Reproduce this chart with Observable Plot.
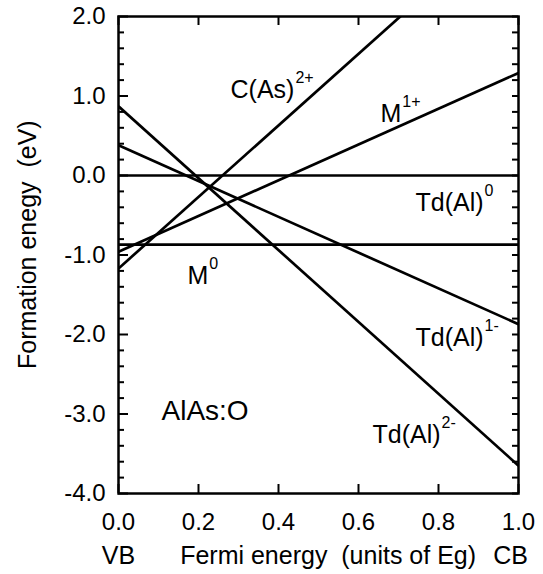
<!DOCTYPE html>
<html><head><meta charset="utf-8">
<script src="https://cdn.jsdelivr.net/npm/d3@7"></script>
<script src="https://cdn.jsdelivr.net/npm/@observablehq/plot@0.6"></script>
<style>
body{margin:0;background:#fff;}
svg text{white-space:pre;}
</style></head><body><div id="chart"></div>
<script>
// Defect levels: formation energy at VB (x=0) and at CB (x=1)
const defects = ["Td(Al)0", "M0", "Td(Al)1-", "Td(Al)2-", "M1+", "C(As)2+"];
const energyAtVB = [0.00, -0.87, 0.38, 0.87, -0.96, -1.17];
const energyAtCB = [0.00, -0.87, -1.87, -3.65, 1.29, 3.33];

// Line labels (base text + superscript), anchored at text start / baseline
const labelText = ["C(As)", "M", "Td(Al)", "M", "Td(Al)", "Td(Al)"];
const labelSup = ["2+", "1+", "0", "0", "1-", "2-"];
const labelX = [0.28, 0.655, 0.7425, 0.1725, 0.7425, 0.635];
const labelY = [0.97, 0.67, -0.45, -1.36, -2.15, -3.36];

const sampleLabel = ["AlAs:O"];
const sampleX = [0.1075];
const sampleY = [-3.07];

const xTicks = [0.0, 0.2, 0.4, 0.6, 0.8, 1.0];
const yMajorTicks = [-4, -3, -2, -1, 0, 1, 2];
const yMinorTicks = [-3.8,-3.6,-3.4,-3.2,-2.8,-2.6,-2.4,-2.2,-1.8,-1.6,-1.4,-1.2,-0.8,-0.6,-0.4,-0.2,0.2,0.4,0.6,0.8,1.2,1.4,1.6,1.8];
const yAllTicks = yMajorTicks.concat(yMinorTicks);

const bottomLabels = ["VB", "Fermi energy  (units of Eg)", "CB"];
const bottomLabelX = [0.0, 0.524, 0.98];
const yTitle = "Formation enegy  (eV)";
const yTitleY = -0.87;

const FONT = "'Liberation Sans', Arial, Helvetica, sans-serif";
const W = 543, H = 574;
const mt = 16, mr = 25, mb = 81, ml = 118;
const pw = W - ml - mr, ph = H - mt - mb;

const lines = defects.map((d, i) => ({defect: d, e0: energyAtVB[i], e1: energyAtCB[i]}));

const canvas = document.createElement("canvas");
const ctx = canvas.getContext("2d");
const LABEL_SIZE = 25, SUP_SIZE = 16;
ctx.font = `${LABEL_SIZE}px ${FONT}`;
const widths = labelText.map(t => ctx.measureText(t).width);

const supMarks = labelText.map((t, i) =>
  Plot.text([i], {x: j => labelX[j], y: j => labelY[j], text: j => labelSup[j],
    textAnchor: "start", lineAnchor: "bottom", fontSize: SUP_SIZE,
    dx: widths[i] + 1, dy: -15, fill: "black"}));

const chart = Plot.plot({
  width: W, height: H,
  marginTop: mt, marginRight: mr, marginBottom: mb, marginLeft: ml,
  style: {fontFamily: FONT, fontSize: "24px", background: "#fff", color: "black"},
  x: {domain: [0, 1]},
  y: {domain: [-4, 2]},
  marks: [
    Plot.link(lines, {x1: () => 0, y1: "e0", x2: () => 1, y2: "e1", stroke: "black", strokeWidth: 2.7, clip: true}),
    // inward ticks
    Plot.ruleX(xTicks, {x: d => d, insetTop: ph - 9, stroke: "black", strokeWidth: 2}),
    Plot.ruleX(xTicks, {x: d => d, insetBottom: ph - 9, stroke: "black", strokeWidth: 2}),
    Plot.ruleY(yMajorTicks, {y: d => d, insetRight: pw - 10, stroke: "black", strokeWidth: 2}),
    Plot.ruleY(yMinorTicks, {y: d => d, insetRight: pw - 6, stroke: "black", strokeWidth: 2}),
    Plot.ruleY(yAllTicks, {y: d => d, insetLeft: pw - 6, stroke: "black", strokeWidth: 2}),
    Plot.frame({stroke: "black", strokeWidth: 2.5}),
    Plot.axisX(xTicks, {tickSize: 0, tickPadding: 19, tickFormat: d => d.toFixed(1), fontSize: 24, fill: "black"}),
    Plot.axisY(yMajorTicks, {tickSize: 0, tickPadding: 13, tickFormat: d => d.toFixed(1), fontSize: 24, fill: "black"}),
    Plot.text(bottomLabels, {x: (d, i) => bottomLabelX[i], text: d => d, frameAnchor: "bottom", dy: 70,
      lineAnchor: "bottom", textAnchor: "middle", fontSize: 25, fill: "black"}),
    Plot.text([yTitle], {y: () => yTitleY, text: d => d, frameAnchor: "left", dx: -91, rotate: -90,
      lineAnchor: "middle", textAnchor: "middle", fontSize: 25, fill: "black"}),
    Plot.text(labelText, {x: (d, i) => labelX[i], y: (d, i) => labelY[i], text: d => d,
      textAnchor: "start", lineAnchor: "bottom", fontSize: LABEL_SIZE, fill: "black"}),
    ...supMarks,
    Plot.text(sampleLabel, {x: (d, i) => sampleX[i], y: (d, i) => sampleY[i], text: d => d,
      textAnchor: "start", lineAnchor: "bottom", fontSize: 28, fill: "black"})
  ]
});
document.getElementById("chart").appendChild(chart);
</script></body></html>
